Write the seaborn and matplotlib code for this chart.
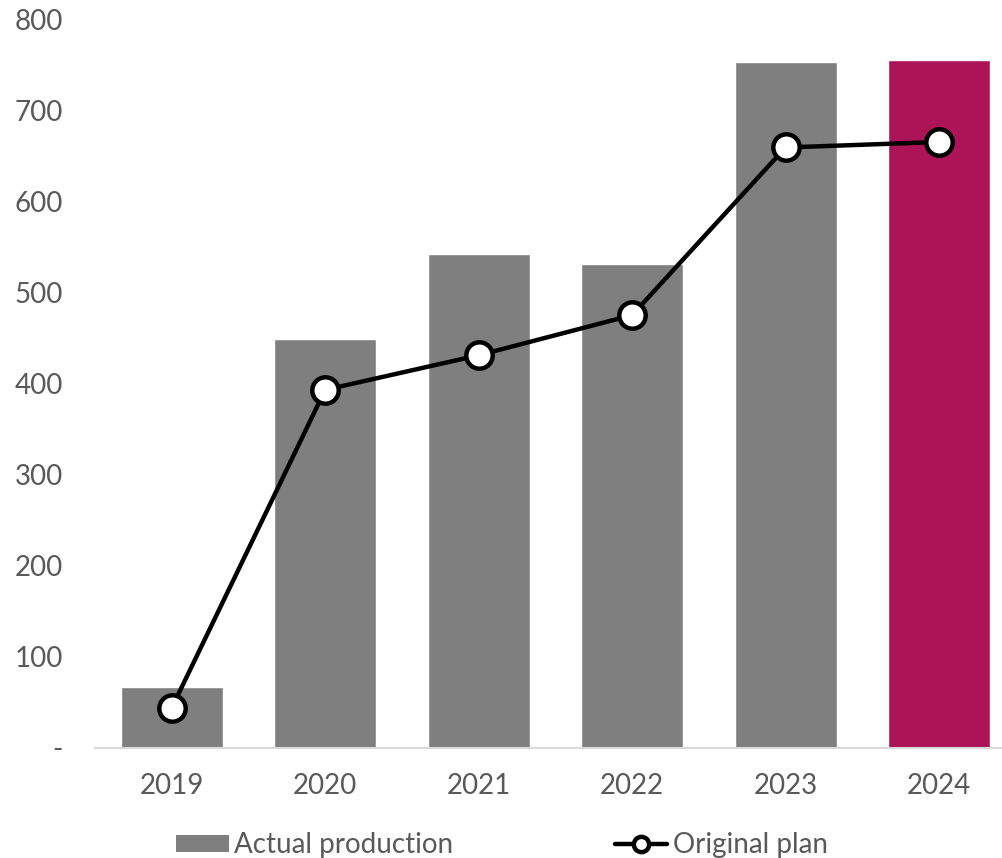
import numpy as np
import pandas as pd
import seaborn as sns
import matplotlib.pyplot as plt
from matplotlib.patches import Patch
from matplotlib.lines import Line2D

years = ['2019', '2020', '2021', '2022', '2023', '2024']
actual = [67, 449, 542, 531, 753, 755]
plan = [44, 393, 431, 475, 659, 665]
bar_colors = ['#7f7f7f', '#7f7f7f', '#7f7f7f', '#7f7f7f', '#7f7f7f', '#ac1457']
y_ticks = [0, 100, 200, 300, 400, 500, 600, 700, 800]
y_labels = ['-', '100', '200', '300', '400', '500', '600', '700', '800']

sns.set_style('white')
plt.rcParams['font.family'] = ['Lato', 'DejaVu Sans']
text_col = '#595959'

df = pd.DataFrame({'Year': years, 'Actual': actual, 'Plan': plan})

fig = plt.figure(figsize=(10.03, 8.58), dpi=100)
ax = fig.add_axes([95 / 1003, 110 / 858, 1 - 95 / 1003, (748 - 19) / 858])

sns.barplot(data=df, x='Year', y='Actual', hue='Year', palette=bar_colors,
            width=0.665, saturation=1, legend=False, ax=ax)

# plan line on the same categorical positions
sns.lineplot(x=np.arange(len(years)), y=df['Plan'], color='black', linewidth=3.2,
             marker='o', markersize=19, markerfacecolor='white',
             markeredgecolor='black', markeredgewidth=3.2, ax=ax, zorder=5)

ax.set_ylim(0, 800)
ax.set_xlim(-0.5, (1003 - 172) / 153.4)
ax.set_yticks(y_ticks)
ax.set_yticklabels(y_labels)
ax.set_xticks(range(len(years)))
ax.set_xticklabels(years)
ax.set_xlabel('')
ax.set_ylabel('')
ax.tick_params(axis='both', length=0, labelsize=20, labelcolor=text_col)
ax.tick_params(axis='y', pad=23)
ax.tick_params(axis='x', pad=18)

for s in ['top', 'right', 'left']:
    ax.spines[s].set_visible(False)
ax.spines['bottom'].set_color('#d9d9d9')
ax.spines['bottom'].set_linewidth(1.5)
ax.spines['bottom'].set_bounds(-0.5, 6)

handles = [Patch(facecolor='#7f7f7f', edgecolor='none', label='Actual production'),
           Line2D([0], [0], color='black', linewidth=3.2, marker='o', markersize=11,
                  markerfacecolor='white', markeredgecolor='black',
                  markeredgewidth=3.2, label='Original plan')]
leg = fig.legend(handles=handles, loc='center', bbox_to_anchor=(502 / 1003, 1 - 845 / 858),
                 ncol=2, frameon=False, fontsize=20, handlelength=1.9,
                 handleheight=0.55, handletextpad=0.2, columnspacing=5.8)
for t in leg.get_texts():
    t.set_color(text_col)

plt.savefig('out.png', dpi=100)
